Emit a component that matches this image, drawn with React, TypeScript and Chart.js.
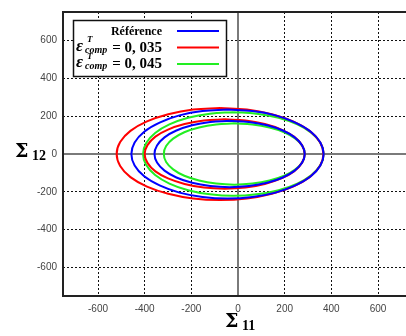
import React, { useEffect, useRef } from 'react';
import { Chart, registerables } from 'chart.js';

Chart.register(...registerables);

// Axis ticks
const xTicks = [-600, -400, -200, 0, 200, 400, 600];
const yTicks = [-600, -400, -200, 0, 200, 400, 600];

// Legend labels
const legendRef = 'Référence';
const legendVal1 = '= 0, 035';
const legendVal2 = '= 0, 045';

// Référence (blue) – outer and inner surfaces
const refOuterX = [-45, -152, -251, -336, -402, -443, -457, -443, -402, -336, -251, -152, -45, 62, 161, 246, 312, 353, 367, 353, 312, 246, 161, 62, -45];
const refOuterY = [235, 227, 204, 166, 118, 61, 0, -61, -118, -166, -204, -227, -235, -227, -204, -166, -118, -61, 0, 61, 118, 166, 204, 227, 235];
const refInnerX = [-36, -119, -197, -264, -315, -347, -358, -347, -315, -264, -197, -119, -36, 47, 125, 192, 243, 275, 286, 275, 243, 192, 125, 47, -36];
const refInnerY = [175, 169, 152, 124, 88, 45, 0, -45, -88, -124, -152, -169, -175, -169, -152, -124, -88, -45, 0, 45, 88, 124, 152, 169, 175];

// eps = 0,035 (red)
const e35OuterX = [-77, -192, -299, -390, -461, -505, -520, -505, -461, -390, -299, -192, -77, 38, 145, 236, 307, 351, 366, 351, 307, 236, 145, 38, -77];
const e35OuterY = [243, 235, 210, 172, 122, 63, 0, -63, -122, -172, -210, -235, -243, -235, -210, -172, -122, -63, 0, 63, 122, 172, 210, 235, 243];
const e35InnerX = [-57, -146, -229, -300, -354, -388, -400, -388, -354, -300, -229, -146, -57, 32, 115, 186, 240, 274, 286, 274, 240, 186, 115, 32, -57];
const e35InnerY = [183, 177, 158, 129, 92, 47, 0, -47, -92, -129, -158, -177, -183, -177, -158, -129, -92, -47, 0, 47, 92, 129, 158, 177, 183];

// eps = 0,045 (green)
const e45OuterX = [-20, -120, -214, -294, -355, -394, -407, -394, -355, -294, -214, -120, -20, 80, 174, 254, 315, 354, 367, 354, 315, 254, 174, 80, -20];
const e45OuterY = [221, 213, 191, 156, 111, 57, 0, -57, -111, -156, -191, -213, -221, -213, -191, -156, -111, -57, 0, 57, 111, 156, 191, 213, 221];
const e45InnerX = [-16, -94, -167, -230, -278, -308, -318, -308, -278, -230, -167, -94, -16, 62, 135, 198, 246, 276, 286, 276, 246, 198, 135, 62, -16];
const e45InnerY = [162, 156, 140, 115, 81, 42, 0, -42, -81, -115, -140, -156, -162, -156, -140, -115, -81, -42, 0, 42, 81, 115, 140, 156, 162];

const BLUE = '#0000ff';
const RED = '#ff0000';
const GREEN = '#22ee22';

export default function App() {
  const ref = useRef<HTMLCanvasElement>(null);

  useEffect(() => {
    if (!ref.current) return;
    const pts = (xs: number[], ys: number[]) => xs.map((x, i) => ({ x, y: ys[i] }));
    const mk = (label: string, xs: number[], ys: number[], color: string) => ({
      label,
      data: pts(xs, ys),
      borderColor: color,
      backgroundColor: color,
      borderWidth: 2,
      showLine: true,
      pointRadius: 0,
      pointHoverRadius: 0,
      tension: 0.4,
      fill: false,
    });

    const zeroAndFrame = {
      id: 'zeroAndFrame',
      beforeDatasetsDraw(chart: any) {
        const { ctx, chartArea, scales } = chart;
        const { left, right, top, bottom } = chartArea;
        const x0 = scales.x.getPixelForValue(0);
        const y0 = scales.y.getPixelForValue(0);
        ctx.save();
        ctx.strokeStyle = '#7a7a7a';
        ctx.lineWidth = 2;
        ctx.beginPath();
        ctx.moveTo(x0, top);
        ctx.lineTo(x0, bottom);
        ctx.moveTo(left, y0);
        ctx.lineTo(right, y0);
        ctx.stroke();
        ctx.restore();
      },
      afterDatasetsDraw(chart: any) {
        const { ctx, chartArea } = chart;
        const { left, right, top, bottom } = chartArea;
        ctx.save();
        ctx.strokeStyle = '#222';
        ctx.lineWidth = 2;
        ctx.strokeRect(left, top, right - left, bottom - top);
        ctx.restore();
      },
    };

    const annotations = {
      id: 'annotations',
      afterDraw(chart: any) {
        const ctx = chart.ctx as CanvasRenderingContext2D;
        ctx.save();
        // Legend box
        ctx.fillStyle = '#fff';
        ctx.fillRect(73.5, 20.5, 153, 56);
        ctx.strokeStyle = '#111';
        ctx.lineWidth = 1.5;
        ctx.strokeRect(73.5, 20.5, 153, 56);
        const rows = [31, 47.5, 64];
        const colors = [BLUE, RED, GREEN];
        ctx.lineWidth = 2;
        rows.forEach((yy, i) => {
          ctx.strokeStyle = colors[i];
          ctx.beginPath();
          ctx.moveTo(177, yy);
          ctx.lineTo(219, yy);
          ctx.stroke();
        });
        ctx.fillStyle = '#000';
        ctx.textBaseline = 'alphabetic';
        ctx.textAlign = 'right';
        ctx.font = 'bold 12px "Liberation Serif"';
        ctx.fillText(legendRef, 162, 35);
        const drawEps = (base: number, val: string) => {
          ctx.textAlign = 'left';
          ctx.font = 'bold italic 17px "Liberation Serif"';
          ctx.fillText('ε', 76, base - 1);
          ctx.font = 'bold italic 9px "Liberation Serif"';
          ctx.fillText('T', 87, base - 9.5);
          ctx.font = 'bold italic 10px "Liberation Serif"';
          ctx.fillText('comp', 85, base + 1);
          ctx.textAlign = 'right';
          ctx.font = 'bold 15px "Liberation Serif"';
          ctx.fillText(val, 162, base);
        };
        drawEps(51.5, legendVal1);
        drawEps(68, legendVal2);

        // Axis titles
        ctx.textAlign = 'left';
        ctx.font = 'bold 19px "DejaVu Serif"';
        ctx.fillText('Σ', 225, 326.7);
        ctx.fillText('Σ', 15, 157.3);
        ctx.font = 'bold 14px "Liberation Serif"';
        ctx.fillText('11', 242, 330);
        ctx.fillText('12', 32, 160);
        ctx.restore();
      },
    };

    const gridColor = (c: any) => (c.tick && c.tick.value === 0 ? 'rgba(0,0,0,0)' : '#111');
    const tickFont = { family: '"Liberation Sans", Arial, sans-serif', size: 10 };

    const chart = new Chart(ref.current, {
      type: 'scatter',
      data: {
        datasets: [
          mk(legendRef, refOuterX, refOuterY, BLUE),
          mk(legendRef, refInnerX, refInnerY, BLUE),
          mk('0,035', e35OuterX, e35OuterY, RED),
          mk('0,035', e35InnerX, e35InnerY, RED),
          mk('0,045', e45OuterX, e45OuterY, GREEN),
          mk('0,045', e45InnerX, e45InnerY, GREEN),
        ] as any,
      },
      options: {
        animation: false,
        responsive: true,
        maintainAspectRatio: false,
        layout: { padding: { top: 7, right: 7, left: 0, bottom: 0 } },
        plugins: { legend: { display: false }, tooltip: { enabled: false } },
        scales: {
          x: {
            type: 'linear',
            min: -750,
            max: 750,
            afterBuildTicks: (s: any) => {
              s.ticks = xTicks.map((v) => ({ value: v }));
            },
            afterFit: (s: any) => {
              s.height = 40;
            },
            grid: { color: gridColor, lineWidth: 1, drawTicks: false },
            border: { display: false, dash: [2, 2] },
            ticks: { padding: 7, color: '#444', font: tickFont, maxRotation: 0, autoSkip: false },
          },
          y: {
            type: 'linear',
            min: -750,
            max: 750,
            afterBuildTicks: (s: any) => {
              s.ticks = yTicks.map((v) => ({ value: v }));
            },
            afterFit: (s: any) => {
              s.width = 63;
            },
            grid: { color: gridColor, lineWidth: 1, drawTicks: false },
            border: { display: false, dash: [2, 2] },
            ticks: { padding: 6, color: '#444', font: tickFont, autoSkip: false },
          },
        },
      } as any,
      plugins: [zeroAndFrame, annotations],
    });
    return () => chart.destroy();
  }, []);

  return (
    <div style={{ position: 'absolute', left: 0, top: 0, width: 406, height: 336, overflow: 'hidden', background: '#fff' }}>
      <div style={{ position: 'relative', width: 420, height: 336 }}>
        <canvas ref={ref} />
      </div>
    </div>
  );
}
